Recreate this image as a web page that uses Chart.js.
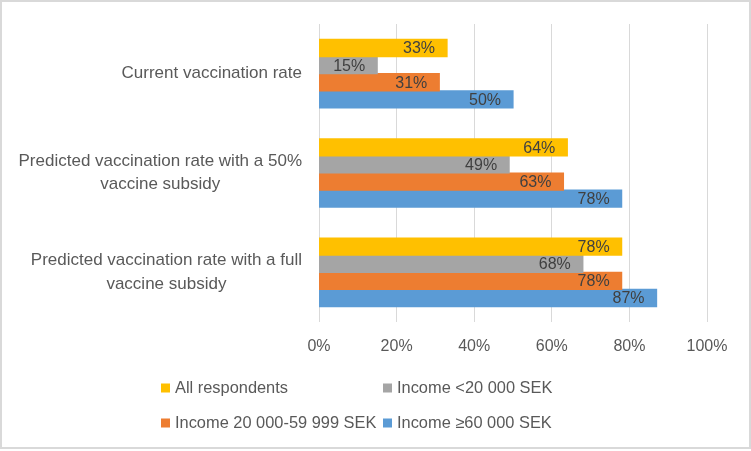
<!DOCTYPE html>
<html lang="en">
<head>
    <meta charset="UTF-8">
    <title>Predicted vaccination rate</title>
    <style>
        html, body { margin: 0; padding: 0; background: #ffffff; }
        #wrap { width: 751px; height: 451px; position: relative; }
    </style>
    <script src="https://cdn.jsdelivr.net/npm/chart.js"></script>
</head>
<body>
    <div id="wrap"><canvas id="vaccineChart"></canvas></div>

    <script>
        // categories (each entry = lines of the axis label)
        const categories = [
            ['Current vaccination rate'],
            ['Predicted vaccination rate with a 50%', 'vaccine subsidy'],
            ['Predicted vaccination rate with a full', 'vaccine subsidy']
        ];

        const seriesNames = ['All respondents', 'Income <20 000 SEK', 'Income 20 000-59 999 SEK', 'Income \u226560 000 SEK'];

        // values in %
        const allRespondents = [33, 64, 78];
        const incomeLow = [15, 49, 68];
        const incomeMid = [31, 63, 78];
        const incomeHigh = [50, 78, 87];

        const xTicks = [0, 20, 40, 60, 80, 100];

        const colors = ['#FFC000', '#A5A5A5', '#ED7D31', '#5B9BD5'];
        const textColor = '#595959';

        Chart.defaults.font.family = '"Liberation Sans", Arial, sans-serif';
        Chart.defaults.color = textColor;

        // frame around the whole picture
        const framePlugin = {
            id: 'frame',
            beforeDraw(chart) {
                const ctx = chart.ctx;
                ctx.save();
                ctx.fillStyle = '#ffffff';
                ctx.fillRect(0, 0, chart.width, chart.height);
                ctx.strokeStyle = '#D9D9D9';
                ctx.lineWidth = 2;
                ctx.strokeRect(1, 1, chart.width - 2, chart.height - 4);
                ctx.restore();
            }
        };

        // value labels at the inner end of each bar
        const valueLabels = {
            id: 'valueLabels',
            afterDatasetsDraw(chart) {
                const ctx = chart.ctx;
                ctx.save();
                ctx.font = '16px "Liberation Sans", Arial, sans-serif';
                ctx.fillStyle = '#404040';
                ctx.textAlign = 'right';
                ctx.textBaseline = 'middle';
                chart.data.datasets.forEach((ds, i) => {
                    chart.getDatasetMeta(i).data.forEach((bar, j) => {
                        ctx.fillText(ds.data[j] + '%', bar.x - 12, bar.y + 1);
                    });
                });
                ctx.restore();
            }
        };

        // category labels: block right aligned, lines centred in the block
        const categoryLabels = {
            id: 'categoryLabels',
            afterDraw(chart) {
                const ctx = chart.ctx;
                const yScale = chart.scales.y;
                const right = 302;
                const lineH = 23.3;
                ctx.save();
                ctx.font = '17px "Liberation Sans", Arial, sans-serif';
                ctx.fillStyle = textColor;
                ctx.textAlign = 'center';
                ctx.textBaseline = 'middle';
                categories.forEach((lines, i) => {
                    const cy = yScale.getPixelForValue(i);
                    const w = Math.max(...lines.map(l => ctx.measureText(l).width));
                    const cx = right - w / 2;
                    const top = cy - (lines.length - 1) * lineH / 2;
                    lines.forEach((l, k) => ctx.fillText(l, cx, top + k * lineH));
                });
                ctx.restore();
            }
        };

        // legend in two columns below the axis
        const gridLegend = {
            id: 'gridLegend',
            afterDraw(chart) {
                const ctx = chart.ctx;
                const colX = [161, 383];
                const rowY = [388, 423];
                ctx.save();
                ctx.font = '16.4px "Liberation Sans", Arial, sans-serif';
                ctx.textBaseline = 'middle';
                ctx.textAlign = 'left';
                chart.data.datasets.forEach((ds, i) => {
                    const x = colX[i % 2];
                    const y = rowY[Math.floor(i / 2)];
                    ctx.fillStyle = ds.backgroundColor;
                    ctx.fillRect(x, y - 4.5, 9, 9);
                    ctx.fillStyle = textColor;
                    ctx.fillText(ds.label, x + 14, y);
                });
                ctx.restore();
            }
        };

        const seriesData = [allRespondents, incomeLow, incomeMid, incomeHigh];

        new Chart(document.getElementById('vaccineChart'), {
            type: 'bar',
            data: {
                labels: categories.map(c => c.join(' ')),
                datasets: seriesData.map((d, i) => ({
                    label: seriesNames[i],
                    data: d,
                    backgroundColor: colors[i],
                    borderWidth: 0,
                    inflateAmount: 0.6,
                    categoryPercentage: 0.69,
                    barPercentage: 1.0
                }))
            },
            options: {
                indexAxis: 'y',
                responsive: true,
                maintainAspectRatio: false,
                animation: false,
                layout: {
                    padding: { left: 319, right: 44, top: 24, bottom: 95 }
                },
                plugins: {
                    legend: { display: false },
                    tooltip: { enabled: false }
                },
                scales: {
                    x: {
                        min: 0,
                        max: 100,
                        afterBuildTicks(scale) {
                            scale.ticks = xTicks.map(v => ({ value: v }));
                        },
                        afterFit(scale) { scale.height = 34; },
                        grid: { color: '#D9D9D9', drawTicks: false },
                        border: { display: false },
                        ticks: {
                            padding: 15,
                            color: textColor,
                            font: { size: 16 },
                            callback: v => v + '%'
                        }
                    },
                    y: {
                        display: false
                    }
                }
            },
            plugins: [framePlugin, valueLabels, categoryLabels, gridLegend]
        });
    </script>
</body>
</html>
